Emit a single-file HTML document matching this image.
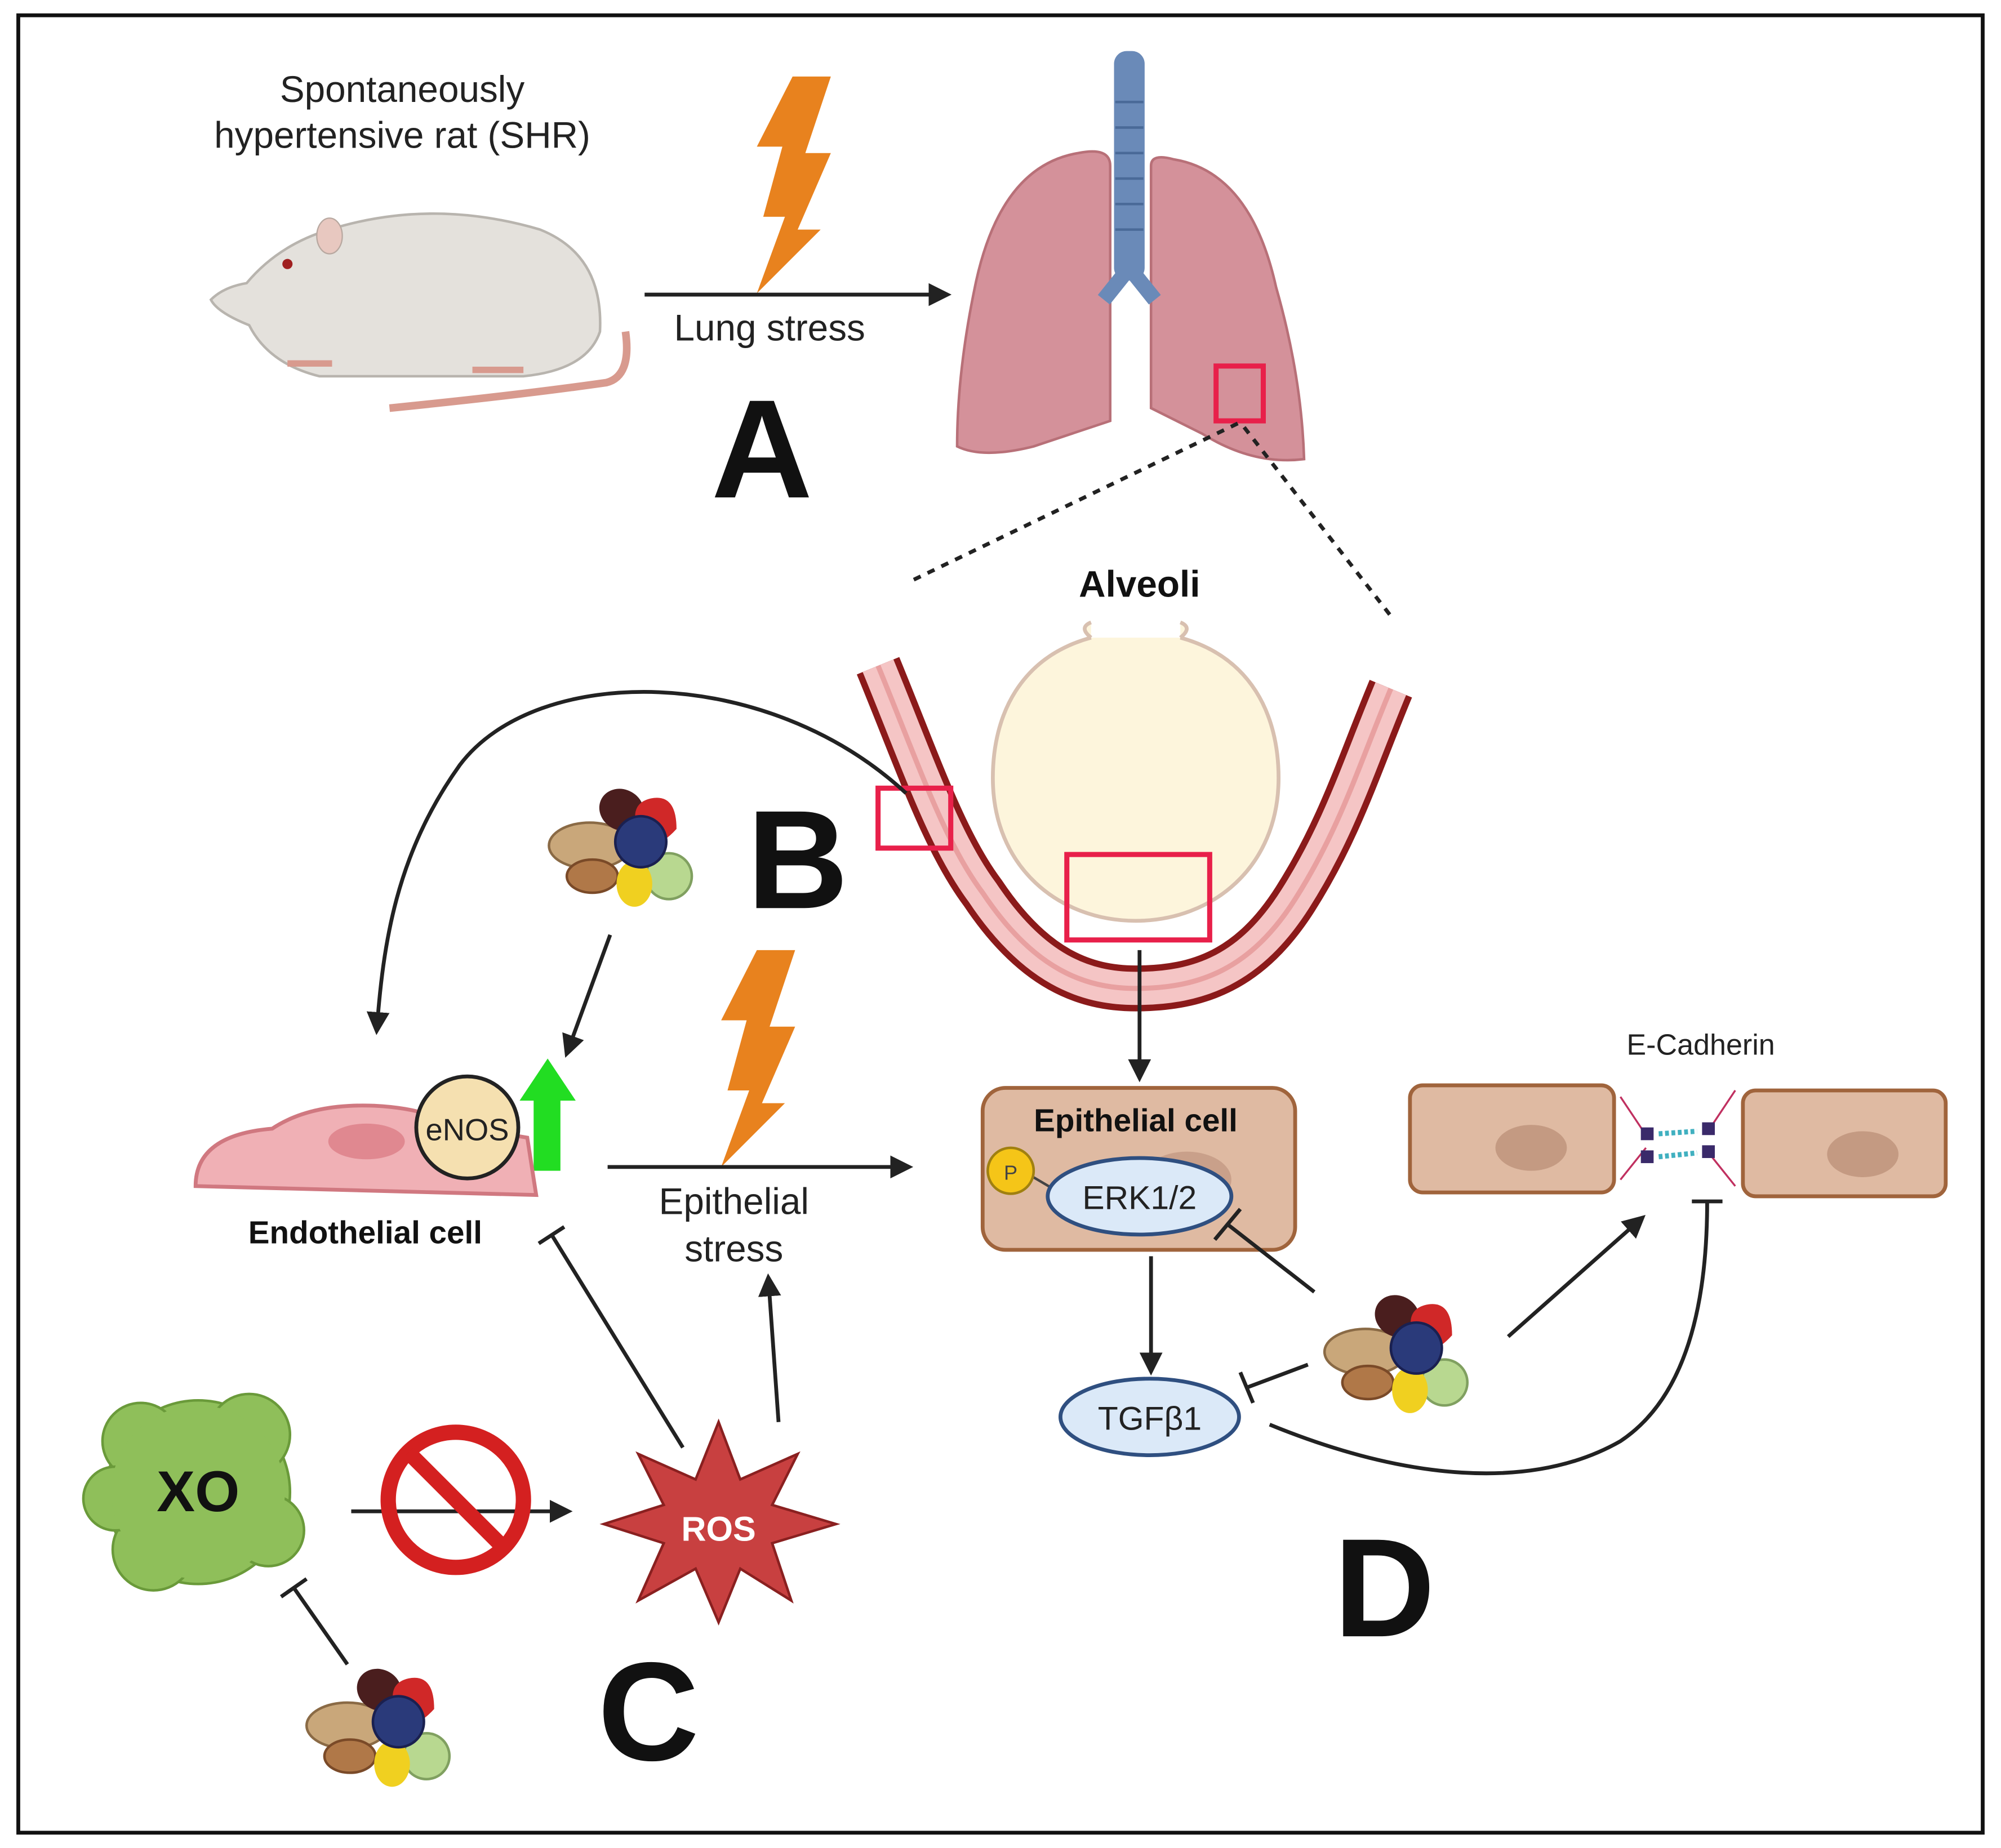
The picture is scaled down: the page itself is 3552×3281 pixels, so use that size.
<!DOCTYPE html>
<html><head><meta charset="utf-8"><style>
html,body{margin:0;padding:0;background:#fff;}
svg{display:block;}
text{font-family:"Liberation Sans",sans-serif;}
</style></head><body>
<svg width="3552" height="3281" viewBox="0 0 1568 1449" xmlns="http://www.w3.org/2000/svg">
<defs>
<marker id="ar" viewBox="0 0 10 10" refX="8" refY="5" markerWidth="6" markerHeight="6" orient="auto-start-reverse"><path d="M0,0 L10,5 L0,10 z" fill="#222"/></marker>
<g id="food">
<ellipse cx="-30" cy="-2" rx="32" ry="18" fill="#c9a77a" stroke="#8a6a45" stroke-width="2"/>
<ellipse cx="-5" cy="-30" rx="18" ry="16" fill="#4a1e1e" transform="rotate(30 -5 -30)"/>
<path d="M38,-15 q0,-28 -20,-24 q-18,4 -10,26 q10,20 30,-2z" fill="#d02828"/>
<ellipse cx="-28" cy="22" rx="20" ry="13" fill="#b07848" stroke="#7a4a28" stroke-width="2"/>
<circle cx="32" cy="22" r="18" fill="#b8d890" stroke="#80a060" stroke-width="2"/>
<ellipse cx="5" cy="28" rx="14" ry="18" fill="#f0d020"/>
<circle cx="10" cy="-5" r="20" fill="#2a3a7a" stroke="#1a2050" stroke-width="2"/>
</g>
<g id="bolt"><path d="M28,0 L58,0 L38,60 L58,60 L32,120 L50,120 L0,170 L22,110 L5,110 L20,55 L0,55 z" fill="#e8821e"/></g>
</defs>
<rect x="14" y="12" width="1540" height="1425" fill="#fff" stroke="#111" stroke-width="3"/>

<text x="315" y="80" font-size="29" text-anchor="middle" fill="#222">Spontaneously</text>
<text x="315" y="116" font-size="29" text-anchor="middle" fill="#222">hypertensive rat (SHR)</text>
<path d="M305,320 q100,-10 170,-20 q20,-5 15,-40" fill="none" stroke="#d89a8e" stroke-width="6"/>
<path d="M193,222 q25,-30 65,-42 q80,-25 165,0 q50,20 47,80 q-10,30 -60,35 l-160,0 q-40,-10 -55,-40 q-25,-10 -30,-20 q10,-10 28,-13z" fill="#e4e1dc" stroke="#b8b4ae" stroke-width="2"/>
<ellipse cx="258" cy="185" rx="10" ry="14" fill="#e8c8c0" stroke="#b8a8a0"/>
<circle cx="225" cy="207" r="4" fill="#a02020"/>
<path d="M225,285 l35,0 M370,290 l40,0" stroke="#d89a8e" stroke-width="5"/>
<use href="#bolt" x="593" y="60"/>
<line x1="505" y1="231" x2="742" y2="231" stroke="#222" stroke-width="3" marker-end="url(#ar)"/>
<text x="603" y="267" font-size="29" text-anchor="middle" fill="#222">Lung stress</text>
<text x="597" y="390" font-size="110" font-weight="bold" text-anchor="middle" fill="#111">A</text>
<path d="M845,120 q-60,10 -80,100 q-15,70 -15,130 q20,10 60,0 l60,-20 l0,-200 q0,-15 -25,-10z" fill="#d4919a" stroke="#b87078" stroke-width="2"/>
<path d="M920,125 q60,10 80,100 q20,70 22,135 q-40,5 -80,-20 l-40,-20 l0,-190 q0,-10 18,-5z" fill="#d4919a" stroke="#b87078" stroke-width="2"/>
<rect x="873" y="40" width="24" height="180" rx="10" fill="#6a8ab8"/>
<g stroke="#4a6a98" stroke-width="2"><line x1="874" y1="80" x2="896" y2="80"/><line x1="874" y1="100" x2="896" y2="100"/><line x1="874" y1="120" x2="896" y2="120"/><line x1="874" y1="140" x2="896" y2="140"/><line x1="874" y1="160" x2="896" y2="160"/><line x1="874" y1="180" x2="896" y2="180"/></g>
<path d="M885,210 l-20,25 M885,210 l20,25" stroke="#6a8ab8" stroke-width="12"/>
<rect x="953" y="287" width="37" height="43" fill="none" stroke="#e8204a" stroke-width="4"/>
<line x1="970" y1="332" x2="713" y2="456" stroke="#222" stroke-width="3" stroke-dasharray="6,6"/>
<line x1="975" y1="335" x2="1090" y2="483" stroke="#222" stroke-width="3" stroke-dasharray="6,6"/>
<text x="893" y="468" font-size="29" font-weight="bold" text-anchor="middle" fill="#111">Alveoli</text>

<path d="M688,522 C720,600 740,660 770,700 C810,760 850,775 890,775 C940,775 980,760 1015,705 C1050,650 1065,600 1090,540" fill="none" stroke="#8b1a1a" stroke-width="36"/>
<path d="M688,522 C720,600 740,660 770,700 C810,760 850,775 890,775 C940,775 980,760 1015,705 C1050,650 1065,600 1090,540" fill="none" stroke="#f5c5c5" stroke-width="26"/>
<path d="M688,522 C720,600 740,660 770,700 C810,760 850,775 890,775 C940,775 980,760 1015,705 C1050,650 1065,600 1090,540" fill="none" stroke="#e8a0a0" stroke-width="4"/>
<path d="M855,500 C800,515 778,560 778,610 C778,680 830,722 890,722 C950,722 1002,680 1002,610 C1002,560 980,515 925,500 M855,500 q-10,-8 0,-12 M925,500 q10,-8 0,-12" fill="#fdf5dc" stroke="#d8c0b0" stroke-width="3"/>
<rect x="688" y="618" width="57" height="47" fill="none" stroke="#e8204a" stroke-width="4"/>
<rect x="836" y="670" width="112" height="67" fill="none" stroke="#e8204a" stroke-width="4"/>
<text x="625" y="712" font-size="110" font-weight="bold" text-anchor="middle" fill="#111">B</text>

<path d="M710,622 C600,520 420,520 360,600 C310,670 300,740 295,808" fill="none" stroke="#222" stroke-width="3" marker-end="url(#ar)"/>
<use href="#food" x="492" y="665"/>
<line x1="478" y1="733" x2="444" y2="826" stroke="#222" stroke-width="3" marker-end="url(#ar)"/>
<path d="M418,918 l21,0 l0,-55 l12,0 l-22,-33 l-22,33 l11,0z" fill="#22dd22"/>
<path d="M153,930 q0,-40 60,-45 q30,-20 80,-18 q40,2 60,15 l60,10 l7,45 z" fill="#f0b0b5" stroke="#d07880" stroke-width="3"/>
<ellipse cx="287" cy="895" rx="30" ry="14" fill="#e08890"/>
<circle cx="366" cy="884" r="40" fill="#f5e0b0" stroke="#222" stroke-width="3"/>
<text x="366" y="894" font-size="24" text-anchor="middle" fill="#222">eNOS</text>
<text x="286" y="975" font-size="25" font-weight="bold" text-anchor="middle" fill="#111">Endothelial cell</text>

<use href="#bolt" x="565" y="745"/>
<line x1="476" y1="915" x2="712" y2="915" stroke="#222" stroke-width="3" marker-end="url(#ar)"/>
<text x="575" y="952" font-size="29" text-anchor="middle" fill="#222">Epithelial</text>
<text x="575" y="989" font-size="29" text-anchor="middle" fill="#222">stress</text>

<line x1="893" y1="745" x2="893" y2="845" stroke="#222" stroke-width="3" marker-end="url(#ar)"/>
<rect x="770" y="853" width="245" height="127" rx="18" fill="#dfbaa2" stroke="#a0643c" stroke-width="3"/>
<ellipse cx="930" cy="925" rx="35" ry="22" fill="#c9a08a"/>
<text x="890" y="887" font-size="25" font-weight="bold" text-anchor="middle" fill="#111">Epithelial cell</text>
<line x1="808" y1="922" x2="825" y2="932" stroke="#444" stroke-width="2"/>
<circle cx="792" cy="918" r="18" fill="#f5c518" stroke="#a08010" stroke-width="2"/>
<text x="792" y="925" font-size="16" text-anchor="middle" fill="#444">P</text>
<ellipse cx="893" cy="938" rx="72" ry="30" fill="#dbe9f8" stroke="#2f4f80" stroke-width="3"/>
<text x="893" y="948" font-size="26" text-anchor="middle" fill="#222">ERK1/2</text>
<line x1="902" y1="985" x2="902" y2="1075" stroke="#222" stroke-width="3" marker-end="url(#ar)"/>
<ellipse cx="901" cy="1111" rx="70" ry="30" fill="#dbe9f8" stroke="#2f4f80" stroke-width="3"/>
<text x="901" y="1121" font-size="26" text-anchor="middle" fill="#222">TGFβ1</text>
<use href="#food" x="1100" y="1062"/>
<line x1="1030" y1="1013" x2="962" y2="960" stroke="#222" stroke-width="3"/>
<line x1="952" y1="972" x2="972" y2="948" stroke="#222" stroke-width="3"/>
<line x1="1025" y1="1070" x2="977" y2="1088" stroke="#222" stroke-width="3"/>
<line x1="972" y1="1076" x2="982" y2="1100" stroke="#222" stroke-width="3"/>
<line x1="1182" y1="1048" x2="1287" y2="955" stroke="#222" stroke-width="3" marker-end="url(#ar)"/>
<path d="M995,1117 C1100,1160 1200,1170 1270,1130 C1330,1090 1338,1000 1338,942" fill="none" stroke="#222" stroke-width="3"/>
<line x1="1326" y1="942" x2="1350" y2="942" stroke="#222" stroke-width="3"/>
<text x="1333" y="827" font-size="23" text-anchor="middle" fill="#222">E-Cadherin</text>
<rect x="1105" y="851" width="160" height="84" rx="10" fill="#dfbaa2" stroke="#a0643c" stroke-width="3"/>
<ellipse cx="1200" cy="900" rx="28" ry="18" fill="#c49a82"/>
<rect x="1366" y="855" width="159" height="83" rx="10" fill="#dfbaa2" stroke="#a0643c" stroke-width="3"/>
<ellipse cx="1460" cy="905" rx="28" ry="18" fill="#c49a82"/>
<g stroke="#c03060" stroke-width="1.5"><line x1="1270" y1="860" x2="1290" y2="890"/><line x1="1270" y1="925" x2="1290" y2="900"/><line x1="1360" y1="855" x2="1340" y2="885"/><line x1="1360" y1="930" x2="1340" y2="905"/></g>
<rect x="1286" y="884" width="10" height="10" fill="#3a2a6a"/><rect x="1286" y="902" width="10" height="10" fill="#3a2a6a"/>
<rect x="1334" y="880" width="10" height="10" fill="#3a2a6a"/><rect x="1334" y="898" width="10" height="10" fill="#3a2a6a"/>
<line x1="1300" y1="889" x2="1330" y2="887" stroke="#40b0c0" stroke-width="4" stroke-dasharray="3,2"/>
<line x1="1300" y1="907" x2="1330" y2="904" stroke="#40b0c0" stroke-width="4" stroke-dasharray="3,2"/>
<text x="1085" y="1283" font-size="110" font-weight="bold" text-anchor="middle" fill="#111">D</text>

<g fill="#8fbf5a" stroke="#6a9a3a" stroke-width="2">
<circle cx="155" cy="1170" r="72"/>
<circle cx="110" cy="1130" r="30"/><circle cx="195" cy="1125" r="32"/><circle cx="210" cy="1200" r="28"/><circle cx="120" cy="1215" r="32"/><circle cx="90" cy="1175" r="25"/>
</g>
<circle cx="155" cy="1170" r="68" fill="#8fbf5a"/>
<text x="155" y="1185" font-size="45" font-weight="bold" text-anchor="middle" fill="#111">XO</text>
<line x1="275" y1="1185" x2="445" y2="1185" stroke="#222" stroke-width="3" marker-end="url(#ar)"/>
<circle cx="357" cy="1176" r="53" fill="none" stroke="#d42020" stroke-width="12"/>
<line x1="320" y1="1139" x2="394" y2="1213" stroke="#d42020" stroke-width="12"/>
<path d="M563,1115 L580,1160 L625,1140 L605,1180 L655,1195 L605,1210 L620,1255 L580,1230 L563,1272 L545,1230 L500,1255 L520,1210 L473,1195 L520,1180 L500,1140 L545,1160 Z" fill="#c84040" stroke="#8a2020" stroke-width="2"/>
<text x="563" y="1208" font-size="27" font-weight="bold" text-anchor="middle" fill="#fff">ROS</text>
<line x1="535" y1="1135" x2="432" y2="968" stroke="#222" stroke-width="3"/>
<line x1="422" y1="975" x2="442" y2="962" stroke="#222" stroke-width="3"/>
<line x1="610" y1="1115" x2="602" y2="1002" stroke="#222" stroke-width="3" marker-end="url(#ar)"/>
<use href="#food" x="302" y="1355"/>
<line x1="272" y1="1305" x2="230" y2="1245" stroke="#222" stroke-width="3"/>
<line x1="220" y1="1252" x2="240" y2="1238" stroke="#222" stroke-width="3"/>
<text x="508" y="1380" font-size="110" font-weight="bold" text-anchor="middle" fill="#111">C</text>
</svg>
</body></html>
